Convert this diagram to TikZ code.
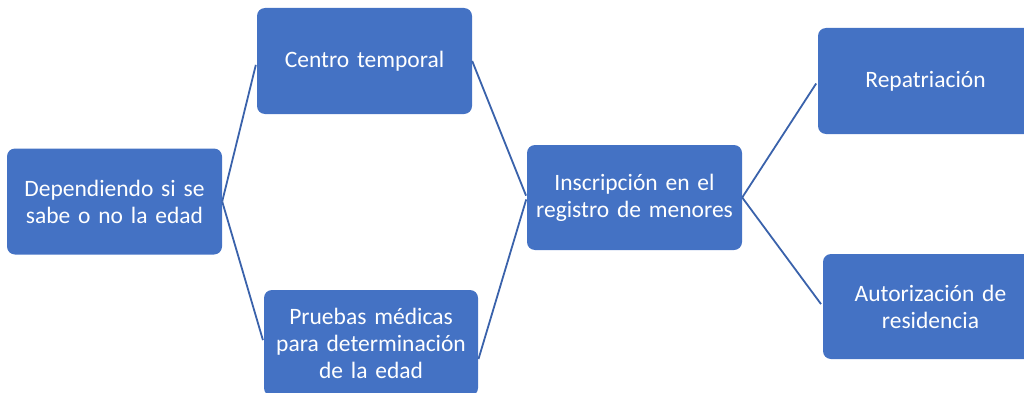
\documentclass[tikz,border=0pt]{standalone}
\usepackage{fontspec}
\setmainfont{Carlito}
\usepackage{tikz}
\usetikzlibrary{shapes.geometric, arrows}
\definecolor{boxblue}{HTML}{4472C4}
\definecolor{lineblue}{HTML}{3A62AB}
\tikzstyle{blue-box} = [rectangle, rounded corners=8pt,
minimum width=215pt,
minimum height=106pt,
text width=204pt,
text centered,
fill=boxblue,
text=white,
font=\fontsize{23.5pt}{27pt}\selectfont]
\tikzstyle{link} = [draw=lineblue, line width=1.8pt]

\begin{document}
\begin{tikzpicture}[x=1pt, y=1pt]
            \useasboundingbox (0,0) rectangle (1024,392);
            \clip (0,0) rectangle (1024,392);
            \node (dep) [blue-box] at (114.5,190.5) {Dependiendo si se\\ sabe o no la edad};
            \node (centro) [blue-box] at (364.5,331) {Centro temporal};
            \node (pruebas) [blue-box, minimum width=214pt] at (371,49) {Pruebas médicas\\ para determinación\\ de la edad};
            \node (inscr) [blue-box, minimum height=105pt] at (634.5,194.5) {Inscripción en el\\ registro de menores};
            \node (repat) [blue-box] at (925.5,311) {Repatriación};
            \node (autor) [blue-box, minimum height=105pt] at (930.5,85.5) {Autorización de\\ residencia};

            \draw [link, shorten >=4pt] (dep.east) -- (centro.west);
            \draw [link, shorten >=3pt] (dep.east) -- (pruebas.west);
            \draw [link, shorten >=2pt] (centro.east) -- (inscr.west);
            \draw [link, shorten <=1pt, shorten >=2pt] (pruebas.-9) -- (inscr.west);
            \draw [link, shorten >=3pt] (inscr.east) -- (repat.west);
            \draw [link, shorten >=3pt] (inscr.east) -- (autor.west);
        \end{tikzpicture}
\end{document}
